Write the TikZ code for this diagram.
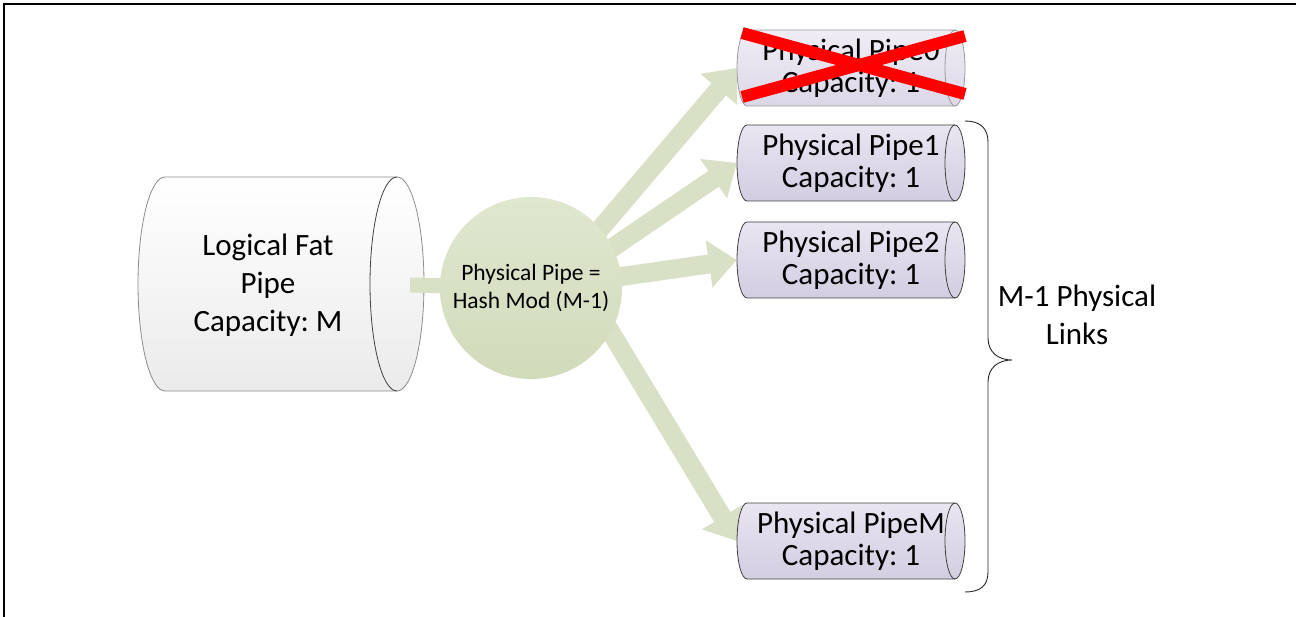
\documentclass[tikz,border=0pt]{standalone}
\usepackage{fontspec}
\setmainfont{Carlito}
\frenchspacing
\usetikzlibrary{arrows.meta}

\definecolor{flowgreen}{HTML}{D8E1C6}
\definecolor{hashtop}{HTML}{DFE7CF}
\definecolor{hashbottom}{HTML}{D1DBBA}
\definecolor{pipetop}{HTML}{E9E5F1}
\definecolor{pipebottom}{HTML}{D3CDE1}
\definecolor{pipeedge}{HTML}{404040}
\definecolor{deadedge}{HTML}{9A9A9A}
\definecolor{fatedge}{HTML}{8C8C8C}

\pgfdeclarelayer{fatlayer}
\pgfdeclarelayer{flowlayer}
\pgfsetlayers{fatlayer,flowlayer,main}

% horizontal cylinder: #1 body style, #2 front-cap style,
% #3 left x, #4 right x, #5 centre y, #6 half height, #7 end radius
\newcommand\drawpipe[7]{%
  \path[#1] (#3,#5-#6) -- (#4,#5-#6)
    arc[start angle=-90,end angle=90,x radius=#7,y radius=#6]
    -- (#3,#5+#6)
    arc[start angle=90,end angle=270,x radius=#7,y radius=#6] -- cycle;
  \draw[#2] (#4,#5-#6)
    arc[start angle=-90,end angle=-270,x radius=#7,y radius=#6];
}

\begin{document}
\begin{tikzpicture}[x=1pt,y=-1pt,
  frameline/.style={line width=2.6pt,black},
  bigtext/.style={align=center,inner sep=0pt,
    font=\fontsize{31pt}{38pt}\selectfont},
  pipetext/.style={align=center,inner sep=0pt,minimum width=228pt,
    minimum height=76pt,font=\fontsize{31pt}{32pt}\selectfont},
  fatbody/.style={draw=fatedge,line width=0.8pt,top color=white,
    bottom color=black!8},
  fatcap/.style={draw=black!75,line width=0.8pt},
  pipebody/.style={draw=pipeedge,line width=0.8pt,top color=pipetop,
    bottom color=pipebottom},
  pipecap/.style={draw=pipeedge,line width=0.8pt},
  deadbody/.style={draw=deadedge,line width=0.8pt,top color=pipetop!70,
    bottom color=pipebottom!80},
  deadcap/.style={draw=deadedge,line width=0.8pt},
  hashnode/.style={circle,minimum size=182pt,inner sep=0pt,align=center,
    top color=hashtop,bottom color=hashbottom,
    font=\fontsize{23.5pt}{28pt}\selectfont},
  flowshaft/.style={flowgreen,line width=15pt},
  flow/.style={flowgreen,line width=19pt,
    -{Triangle[width=46pt,length=28pt]}},
  crossout/.style={red,line width=12pt},
  bracestyle/.style={black!85,line width=0.9pt}
]
\useasboundingbox (0,0) rectangle (1296,617);

% frame along the top and left edges
\draw[frameline] (4,617) -- (4,4) -- (1296,4);

% logical fat pipe
\begin{pgfonlayer}{fatlayer}
  \drawpipe{fatbody}{fatcap}{165}{397}{284}{107}{27}
\end{pgfonlayer}
\node[bigtext] (fat) at (268,285) {Logical Fat\\Pipe\\Capacity: M};
\coordinate (fatport) at (410,285);

% hash selector
\node[hashnode] (hash) at (531,288) {Physical Pipe =\\Hash Mod (M-1)};

% physical pipes
\drawpipe{deadbody}{deadcap}{747}{955}{68}{38}{10}
\node[pipetext] (p0) at (851,68) {Physical Pipe0\\Capacity: 1};

\drawpipe{pipebody}{pipecap}{747}{955}{163}{38}{10}
\node[pipetext] (p1) at (851,163) {Physical Pipe1\\Capacity: 1};

\drawpipe{pipebody}{pipecap}{747}{955}{260}{38}{10}
\node[pipetext] (p2) at (851,260) {Physical Pipe2\\Capacity: 1};

\drawpipe{pipebody}{pipecap}{747}{955}{541}{38}{10}
\node[pipetext] (pM) at (851,541) {Physical PipeM\\Capacity: 1};

% flow arrows, behind the selector
\begin{pgfonlayer}{flowlayer}
  \draw[flowshaft] (fatport) -- (hash.center);
  \draw[flow] ([shift={(53,-40)}]hash.center) -- (p0.west);
  \draw[flow] ([shift={(56,-23)}]hash.center) -- (p1.west);
  \draw[flow] ([shift={(59,-7)}]hash.center) -- (p2.west);
  \draw[flow] ([shift={(64,18)}]hash.center) -- (pM.west);
\end{pgfonlayer}

% failed link
\draw[crossout] (742,33) -- (965,94);
\draw[crossout] (742,97) -- (965,36);

% brace over the live links
\draw[bracestyle] (965,121) .. controls (980,121) and (988,128) .. (988,142)
  -- (988,338) .. controls (988,352) and (998,360) .. (1012,360)
  .. controls (998,360) and (988,368) .. (988,382)
  -- (988,572) .. controls (988,586) and (980,592) .. (965,592);
\node[bigtext] (links) at (1077,315) {M-1 Physical\\Links};
\end{tikzpicture}
\end{document}
